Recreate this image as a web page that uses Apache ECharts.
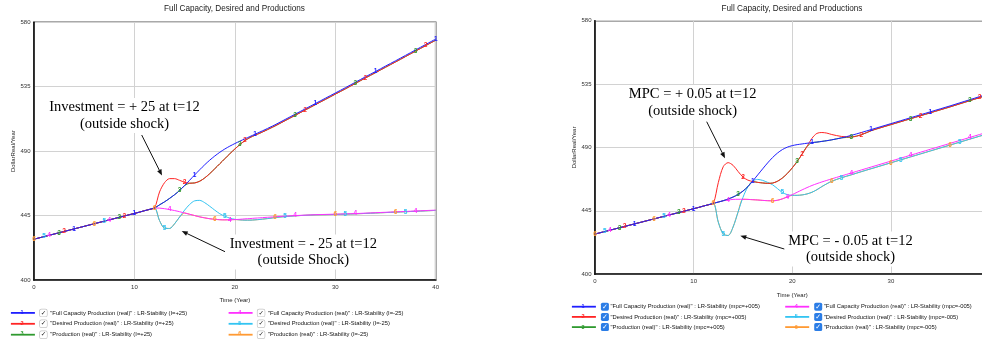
<!DOCTYPE html>
<html><head><meta charset="utf-8">
<script src="https://cdn.jsdelivr.net/npm/echarts@6/dist/echarts.min.js"></script>
<style>html,body{margin:0;padding:0;background:#fff}#c{width:982px;height:339px}</style>
</head><body><div id="c"></div>
<script>
// ---------- DATA ----------
const TITLE = 'Full Capacity, Desired and Productions';
const X_NAME = 'Time (Year)';
const Y_NAME = 'DollarReal/Year';
const Y_TICKS = [400, 445, 490, 535, 580];

// time points (years)
const T = [0,0.5,1,1.5,2,2.5,3,3.5,4,4.5,5,5.5,6,6.5,7,7.5,8,8.5,9,9.5,10,10.5,11,11.5,12,
  12.5,13,13.5,14,14.5,15,15.5,16,16.5,17,17.5,18,18.5,19,19.5,20,20.5,21,21.5,22,22.5,23,23.5,24,
  25,26,27,28,29,30,31,32,33,34,35,36,37,38,39,40];

// common path before the shock (t = 0 .. 12)
const BASE = [428.5,429.4,430.3,431.2,432.1,433.0,433.9,434.8,435.7,436.6,437.5,438.4,439.3,440.2,441.1,442.0,
  442.9,443.8,444.7,445.6,446.5,447.4,448.4,449.3,450.3];

// values after t = 12 (t = 12.5 .. 24 by 0.5, then 25 .. 40 by 1)
// Left panel: Investment shock
const L_FULL_POS = [452.5,454.6,457.0,459.6,462.5,466.0,469.7,473.4,477.0,480.5,483.7,486.6,489.2,491.5,493.5,495.3,497.0,498.6,500.2,501.8,503.4,505.0,506.7,508.4,
  512.1,515.8,519.5,523.2,526.9,530.6,534.3,538.1,541.9,545.6,549.4,553.1,556.9,560.7,564.5,568.3];
const L_DES_POS = [461.5,468.0,470.8,470.8,469.6,468.3,467.6,467.8,469.0,471.3,474.3,477.7,481.2,484.7,488.2,491.5,494.6,497.3,499.5,501.1,502.6,504.2,505.9,507.6,
  511.3,515.0,518.7,522.4,526.1,529.8,533.5,537.3,541.1,544.8,548.6,552.3,556.1,559.9,563.7,567.5];
const L_PROD_POS = [452.5,454.6,457.0,459.6,462.5,466.0,467.6,467.8,469.0,471.3,474.3,477.7,481.2,484.7,488.2,491.5,494.6,497.3,499.5,501.1,502.6,504.2,505.9,507.6,
  511.3,515.0,518.7,522.4,526.1,529.8,533.5,537.3,541.1,544.8,548.6,552.3,556.1,559.9,563.7,567.5];
const L_FULL_NEG = [450.2,449.8,449.2,448.5,447.7,446.8,445.9,445.0,444.1,443.4,442.8,442.4,442.1,442.0,442.1,442.2,442.4,442.7,442.9,443.2,443.4,443.7,443.9,444.2,
  444.6,445.0,445.3,445.6,445.8,446.0,446.2,446.4,446.7,447.0,447.3,447.6,447.9,448.2,448.5,448.8];
const L_DES_NEG = [441.5,436.2,436.0,439.3,444.0,448.8,452.8,455.3,455.6,454.0,451.5,448.8,446.3,444.5,443.2,442.4,442.0,441.8,441.8,442.0,442.3,442.7,443.1,443.6,
  444.3,444.8,445.2,445.5,445.6,445.8,446.0,446.2,446.5,446.8,447.1,447.4,447.7,448.0,448.3,448.6];
const L_PROD_NEG = [441.5,436.2,436.0,439.3,444.0,446.8,445.9,445.0,444.1,443.4,442.8,442.4,442.1,442.0,442.1,442.2,442.0,441.8,441.8,442.0,442.3,442.7,443.1,443.6,
  444.3,444.8,445.2,445.5,445.6,445.8,446.0,446.2,446.5,446.8,447.1,447.4,447.7,448.0,448.3,448.6];

// Right panel: MPC shock
const R_FULL_POS = [451.2,452.2,453.4,454.8,456.6,459.0,462.2,466.2,470.5,474.8,479.0,482.8,486.0,488.5,490.2,491.3,492.0,492.5,493.0,493.4,493.8,494.3,494.8,495.4,
  496.8,498.6,500.6,502.7,504.8,506.9,509.0,511.1,513.2,515.3,517.4,519.5,521.7,523.9,526.1,528.3];
const R_DES_POS = [465.0,476.3,479.2,477.3,473.0,469.0,466.8,465.8,465.2,464.8,464.5,464.7,466.0,468.3,471.5,475.5,480.0,485.3,490.7,496.5,500.0,500.6,500.2,499.2,
  497.8,497.4,499.0,501.9,504.1,506.2,508.3,510.4,512.5,514.6,516.7,518.8,521.0,523.2,525.4,527.6];
const R_PROD_POS = [451.2,452.2,453.4,454.8,456.6,459.0,462.2,465.8,465.2,464.8,464.5,464.7,466.0,468.3,471.5,475.5,480.0,485.3,490.7,493.4,493.8,494.3,494.8,495.4,
  496.8,497.4,499.0,501.9,504.1,506.2,508.3,510.4,512.5,514.6,516.7,518.8,521.0,523.2,525.4,527.6];
const R_FULL_NEG = [451.3,452.1,452.7,453.1,453.2,453.2,453.1,452.9,452.7,452.4,452.2,452.1,452.5,453.5,454.9,456.5,458.2,459.9,461.5,463.0,464.3,465.5,466.6,467.7,
  469.8,471.9,474.0,476.1,478.2,480.3,482.4,484.5,486.6,488.7,490.8,492.9,495.0,497.1,499.2,501.3];
const R_DES_NEG = [437.0,428.5,427.5,433.5,444.0,454.5,462.0,466.2,467.3,466.6,465.2,463.5,460.8,458.0,456.5,456.0,456.0,456.3,457.0,458.2,460.0,462.2,464.2,466.0,
  468.5,470.6,472.8,474.9,477.0,479.1,481.2,483.3,485.4,487.5,489.6,491.7,493.8,495.9,498.0,500.1];
const R_PROD_NEG = [437.0,428.5,427.5,433.5,444.0,453.2,453.1,452.9,452.7,452.4,452.2,452.1,452.5,453.5,454.9,456.0,456.0,456.3,457.0,458.2,460.0,462.2,464.2,466.0,
  468.5,470.6,472.8,474.9,477.0,479.1,481.2,483.3,485.4,487.5,489.6,491.7,493.8,495.9,498.0,500.1];

// series names
const L_NAMES = [
  '"Full Capacity Production (real)" : LR-Stability (I=+25)',
  '"Desired Production (real)" : LR-Stability (I=+25)',
  '"Production (real)" : LR-Stability (I=+25)',
  '"Full Capacity Production (real)" : LR-Stability (I=-25)',
  '"Desired Production (real)" : LR-Stability (I=-25)',
  '"Production (real)" : LR-Stability (I=-25)'];
const R_NAMES = [
  '"Full Capacity Production (real)" : LR-Stability (mpc=+005)',
  '"Desired Production (real)" : LR-Stability (mpc=+005)',
  '"Production (real)" : LR-Stability (mpc=+005)',
  '"Full Capacity Production (real)" : LR-Stability (mpc=-005)',
  '"Desired Production (real)" : LR-Stability (mpc=-005)',
  '"Production (real)" : LR-Stability (mpc=-005)'];
const DIGITS = ['1','2','3','4','5','6'];
// times at which the numbered markers sit on each line
const MARK_TIMES = [
  [4,10,16,22,28,34,40],
  [3,9,15,21,27,33,39],
  [2.5,8.5,14.5,20.5,26,32,38],
  [1.5,7.5,13.5,19.5,26,32,38],
  [1,7,13,19,25,31,37],
  [0,6,12,18,24,30,36]];
const ANNOT = [
  'Investment = + 25 at t=12\n(outside shock)',
  'Investment = - 25 at t=12\n(outside Shock)',
  'MPC = + 0.05 at t=12\n(outside shock)',
  'MPC = - 0.05 at t=12\n(outside shock)'];

// ---------- STYLE ----------
const COLORS = ['#1f1fff','#ff2424','#2f9a2f','#ff30ff','#33c4f2','#ff9a33'];
const SANS = 'Liberation Sans';
const SERIF = 'Liberation Serif';

function seriesFor(name, tail, idx, g) {
  const vals = BASE.concat(tail);
  const data = T.map((t, i) => [t, vals[i]]);
  const marks = MARK_TIMES[idx].map(t => { const i = T.indexOf(t); return { coord: [T[i], vals[i]] }; });
  return {
    type: 'line', name, xAxisIndex: g, yAxisIndex: g, data,
    symbol: 'none', smooth: 0.3, animation: false,
    lineStyle: { width: 1, color: COLORS[idx] }, itemStyle: { color: COLORS[idx] },
    emphasis: { disabled: true },
    markPoint: {
      silent: true, animation: false, symbol: 'rect', symbolSize: [1, 1],
      itemStyle: { color: 'rgba(0,0,0,0)' },
      label: { show: true, position: 'inside', formatter: DIGITS[idx], color: COLORS[idx], fontSize: 6.5, fontWeight: 'bold', fontFamily: SANS },
      data: marks
    }
  };
}

const leftTails = [L_FULL_POS, L_DES_POS, L_PROD_POS, L_FULL_NEG, L_DES_NEG, L_PROD_NEG];
const rightTails = [R_FULL_POS, R_DES_POS, R_PROD_POS, R_FULL_NEG, R_DES_NEG, R_PROD_NEG];
const series = [];
// draw order: last listed (1) on top, like the original tool
for (let i = 5; i >= 0; i--) series.push(seriesFor(L_NAMES[i], leftTails[i], i, 0));
for (let i = 5; i >= 0; i--) series.push(seriesFor(R_NAMES[i], rightTails[i], i, 1));

const G = [
  { left: 34, top: 22.3, width: 401.7, height: 257.7 },
  { left: 595, top: 20.7, width: 394.5, height: 253.5 }];

function xAxis(g, nameGap) {
  return {
    type: 'value', gridIndex: g, min: 0, max: 40, interval: 10,
    name: X_NAME, nameLocation: 'middle', nameGap,
    nameTextStyle: { fontSize: 6, fontFamily: SANS, color: '#222' },
    axisLine: { show: true, lineStyle: { color: '#111', width: 1.6 } },
    axisTick: { show: false },
    axisLabel: { fontSize: 6, fontFamily: SANS, color: '#333', margin: 4 },
    splitLine: { show: true, lineStyle: { color: '#d2d2d2', width: 1 } }
  };
}
function yAxis(g, nameGap) {
  return {
    type: 'value', gridIndex: g, min: 400, max: 580,
    name: Y_NAME, nameLocation: 'middle', nameGap,
    nameTextStyle: { fontSize: 6, fontFamily: SANS, color: '#222' },
    axisLine: { show: true, lineStyle: { color: '#111', width: 1.6 } },
    axisTick: { show: false, customValues: Y_TICKS },
    axisLabel: { fontSize: 6, fontFamily: SANS, color: '#333', margin: 3.5, customValues: Y_TICKS },
    splitLine: { show: true, lineStyle: { color: '#d2d2d2', width: 1 } }
  };
}

function legendCfg(names, left, top, gap, filled) {
  const chk = filled
    ? { width: 8, height: 8, lineHeight: 8, align: 'center', verticalAlign: 'middle', backgroundColor: '#2b7de6',
        borderRadius: 1.6, color: '#fff', fontSize: 7, fontWeight: 'bold', fontFamily: 'DejaVu Sans' }
    : { width: 7, height: 7, lineHeight: 8, align: 'center', verticalAlign: 'middle', backgroundColor: '#fff',
        borderColor: '#c4c4c4', borderWidth: 0.7, borderRadius: 1.5, color: '#111', fontSize: 6.5, fontFamily: 'DejaVu Sans' };
  return {
    data: names, orient: 'vertical', left, top, padding: 0, itemGap: gap,
    itemWidth: 24, itemHeight: 8, selectedMode: false,
    lineStyle: { width: 1.8 },
    itemStyle: { opacity: 0 },
    formatter: n => '{c|✓}{g| }{t|' + n + '}',
    textStyle: {
      rich: {
        c: chk,
        g: { width: filled ? 1.6 : 3.4, fontSize: 6, lineHeight: 8 },
        t: { fontSize: 5.8, fontFamily: SANS, color: '#111', lineHeight: 8 }
      }
    }
  };
}
const LEG = [
  { names: L_NAMES.slice(0, 3), left: 10, top: 308.7, gap: 2.5, filled: false, digits: [0, 1, 2] },
  { names: L_NAMES.slice(3, 6), left: 227.7, top: 308.7, gap: 2.5, filled: false, digits: [3, 4, 5] },
  { names: R_NAMES.slice(0, 3), left: 571, top: 302.7, gap: 2.2, filled: true, digits: [0, 1, 2] },
  { names: R_NAMES.slice(3, 6), left: 784.3, top: 302.7, gap: 2.2, filled: true, digits: [3, 4, 5] }];

const graphics = [];
// titles
graphics.push({ type: 'text', x: 234.5, y: 9, z: 5,
  style: { text: TITLE, fill: '#222', font: '8.2px "' + SANS + '"', align: 'center', verticalAlign: 'middle' } });
graphics.push({ type: 'text', x: 792, y: 8.5, z: 5,
  style: { text: TITLE, fill: '#222', font: '8.2px "' + SANS + '"', align: 'center', verticalAlign: 'middle' } });
// annotations
const ANN_POS = [[124.5, 115.5], [303.3, 252], [692.7, 102.5], [850.5, 249]];
ANNOT.forEach((txt, i) => {
  graphics.push({ type: 'text', x: ANN_POS[i][0], y: ANN_POS[i][1], z: 1,
    style: { text: txt, fill: '#000', font: '14.5px "' + SERIF + '"', align: 'center', verticalAlign: 'middle',
      lineHeight: 16.5, backgroundColor: '#fff', padding: [1, 3] } });
});
// arrows
const ARROWS = [[[141.7, 135], [162, 175.5]], [[225, 251.7], [181.7, 231]],
  [[706.7, 121.7], [725, 158.3]], [[784.3, 249], [740.3, 235.7]]];
ARROWS.forEach(([a, b]) => {
  const dx = b[0] - a[0], dy = b[1] - a[1], L = Math.hypot(dx, dy), ux = dx / L, uy = dy / L;
  const hl = 6, hw = 2.4;
  const bx = b[0] - ux * hl, by = b[1] - uy * hl;
  graphics.push({ type: 'line', z: 10, shape: { x1: a[0], y1: a[1], x2: bx, y2: by }, style: { stroke: '#111', lineWidth: 1 } });
  graphics.push({ type: 'polygon', z: 10, shape: { points: [[b[0], b[1]], [bx - uy * hw, by + ux * hw], [bx + uy * hw, by - ux * hw]] },
    style: { fill: '#111' } });
});
// digits on legend sample lines
LEG.forEach(l => {
  l.digits.forEach((d, k) => {
    graphics.push({ type: 'text', x: l.left + 12, y: l.top + 4 + k * (8 + l.gap), z: 20,
      style: { text: DIGITS[d], fill: COLORS[d], font: 'bold 5.5px "' + SANS + '"', align: 'center', verticalAlign: 'middle' } });
  });
});

const option = {
  animation: false,
  backgroundColor: '#fff',
  grid: G.map(g => Object.assign({ show: true, borderColor: '#555', borderWidth: 1.6, containLabel: false, outerBoundsMode: 'none' }, g)),
  xAxis: [xAxis(0, 17), xAxis(1, 18)],
  yAxis: [yAxis(0, 16.5), yAxis(1, 16)],
  legend: LEG.map(l => legendCfg(l.names, l.left, l.top, l.gap, l.filled)),
  series,
  graphic: graphics
};
const chart = echarts.init(document.getElementById('c'), null, { renderer: 'canvas' });
chart.setOption(option);
</script></body></html>
